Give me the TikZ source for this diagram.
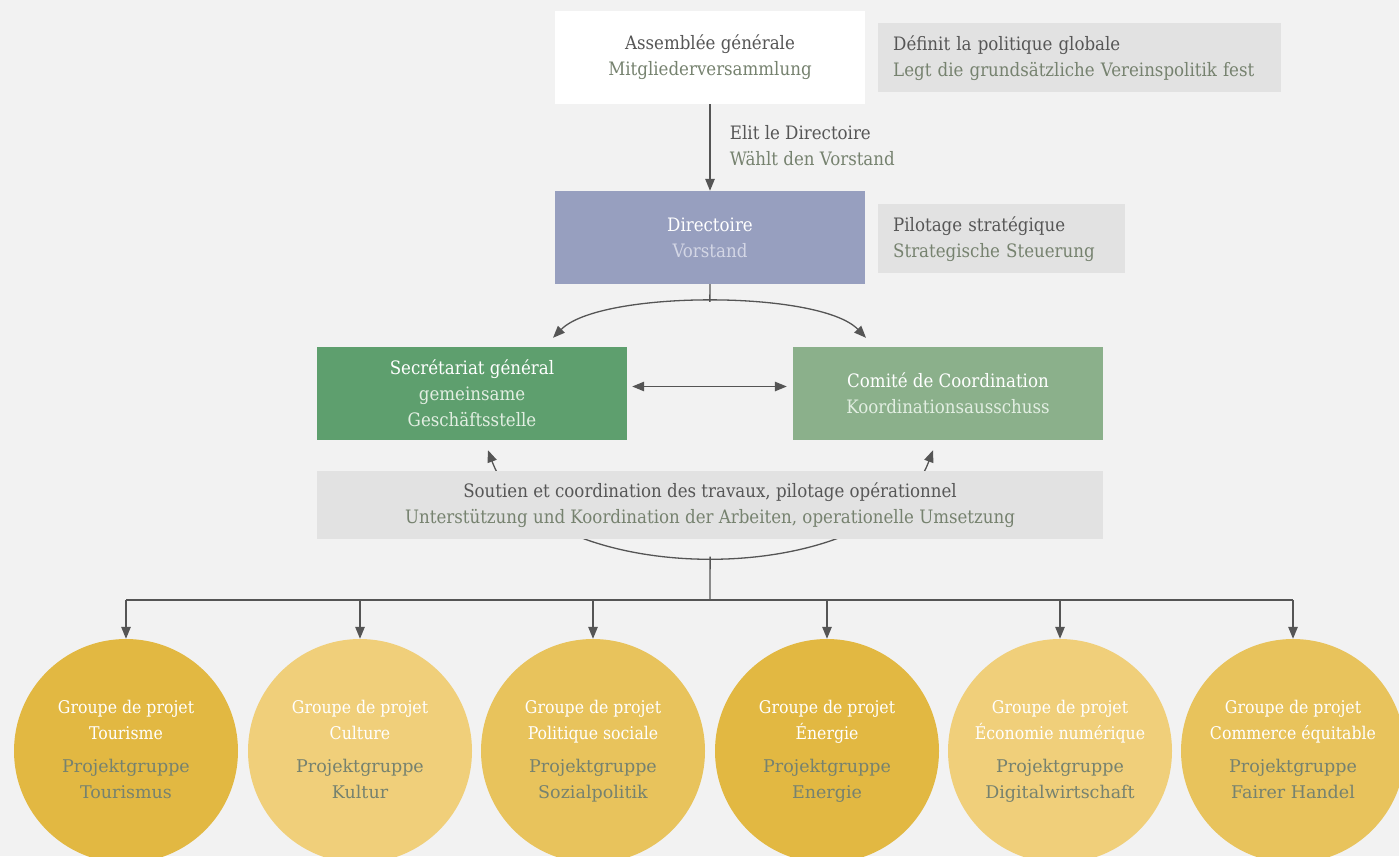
\documentclass[tikz,border=0pt]{standalone}
\usepackage{fontspec}
\setmainfont{DejaVu Serif Condensed}
\newfontfamily\largeserif{DejaVu Serif}
\usetikzlibrary{arrows.meta}

\definecolor{fond}{HTML}{F2F2F2}
\definecolor{grisnote}{HTML}{E2E2E2}
\definecolor{vorstand}{HTML}{979FBF}
\definecolor{vorstandclair}{HTML}{D3D6E5}
\definecolor{secretariat}{HTML}{5E9F6E}
\definecolor{comite}{HTML}{8BB08B}
\definecolor{vertclair}{HTML}{E2EEE2}
\definecolor{or}{HTML}{E2B842}
\definecolor{pale}{HTML}{F0CF7A}
\definecolor{moyen}{HTML}{E8C35C}
\definecolor{trait}{HTML}{555555}
\definecolor{textefr}{HTML}{565656}
\definecolor{textede}{HTML}{76826F}

\begin{document}
\begin{tikzpicture}[x=1pt, y=-1pt, >={Triangle[length=12pt,width=9.5pt]}, line join=round,
	font=\fontsize{18.5}{26}\selectfont,
	boite/.style={rectangle, minimum width=310pt, minimum height=93pt, inner sep=0pt, align=center},
	note/.style={rectangle, fill=grisnote, anchor=north west, inner xsep=15pt, inner ysep=0pt, align=left, text=textefr},
	fleche/.style={draw=trait, line width=1.3pt},
	groupe/.style={circle, minimum size=224pt, inner sep=0pt, align=center, text=white,
		font=\fontsize{17.5}{26}\selectfont}]

	% Fond et cadre
	\useasboundingbox (0, 0) rectangle (1399, 856);
	\clip (0, 0) rectangle (1399, 856);
	\fill[fond] (0, 0) rectangle (1399, 856);

	% Niveau stratégique
	\node[boite, fill=white, text=textefr] (ag) at (710, 57.5) {Assemblée générale\\{\color{textede}Mitgliederversammlung}};
	\node[note, text width=373pt, minimum height=69pt] (ag-note) at (878, 23) {Définit la politique globale\\{\color{textede}Legt die grundsätzliche Vereinspolitik fest}};

	\node[boite, fill=vorstand, text=white] (dir) at (710, 237.5) {Directoire\\{\color{vorstandclair}Vorstand}};
	\node[note, text width=217pt, minimum height=69pt] (dir-note) at (878, 204) {Pilotage stratégique\\{\color{textede}Strategische Steuerung}};

	\draw[fleche, ->] (ag) -- (dir) node[midway, right=16pt, yshift=2pt, align=left, text=textefr] (elit) {Elit le Directoire\\{\color{textede}Wählt den Vorstand}};

	% Niveau opérationnel
	\node[boite, fill=secretariat, text=white] (secr) at (472, 393.5) {Secrétariat général\\{\color{vertclair}gemeinsame}\\{\color{vertclair}Geschäftsstelle}};
	\node[boite, fill=comite, text=white] (coord) at (948, 393.5) {Comité de Coordination\\{\color{vertclair}Koordinationsausschuss}};

	\draw[fleche, <->] ([shift={(81, -9)}]secr.north) .. controls (600, 290) and (820, 290) .. ([shift={(-82, -9)}]coord.north) coordinate[pos=0.5] (sommet);
	\draw[fleche] (dir) -- (sommet);
	\draw[fleche, <->] ([shift={(5, -7)}]secr.east) -- ([shift={(-6, -7)}]coord.west);

	% Arc derrière le bandeau
	\draw[fleche, <->] ([shift={(16, 10)}]secr.south) .. controls (540, 592) and (880, 592) .. ([shift={(-15, 10)}]coord.south) coordinate[pos=0.5] (creux);
	\node[rectangle, fill=grisnote, minimum width=786pt, minimum height=68pt, inner sep=0pt, align=center, text=textefr] (soutien) at (710, 505) {Soutien et coordination des travaux, pilotage opérationnel\\{\color{textede}Unterstützung und Koordination der Arbeiten, operationelle Umsetzung}};

	% Groupes de projet
	\coordinate (bus) at (710, 600);
	\draw[fleche] (creux) -- (bus);
	\foreach \i/\x/\teinte/\fra/\deu in {1/126/or/Tourisme/Tourismus, 2/360/pale/Culture/Kultur, 3/593/moyen/Politique sociale/Sozialpolitik, 4/827/or/Énergie/Energie, 5/1060/pale/Économie numérique/Digitalwirtschaft, 6/1293/moyen/Commerce équitable/Fairer Handel} {
		\node[groupe, fill=\teinte] (g\i) at (\x, 751) {\strut Groupe de projet\\\strut\fra\\[7pt]{\largeserif\color{textede}\strut Projektgruppe}\\{\largeserif\color{textede}\strut\deu}};
		\draw[fleche, ->] (g\i.north |- bus) -- (g\i.north);
	}
	\draw[fleche] (g1.north |- bus) -- (g6.north |- bus);
\end{tikzpicture}
\end{document}
